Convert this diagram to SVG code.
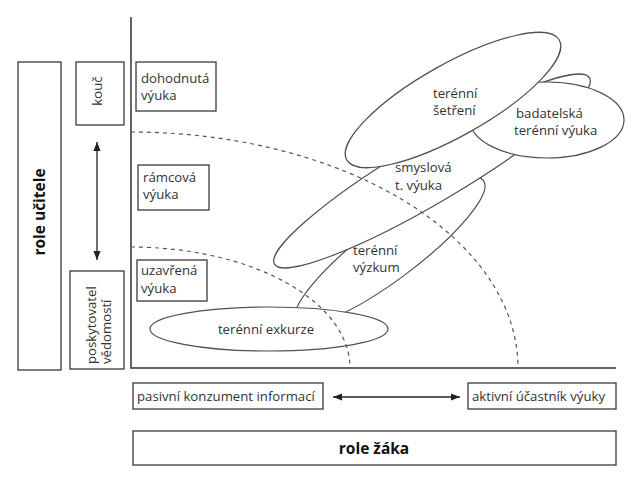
<svg xmlns="http://www.w3.org/2000/svg" width="640" height="481" viewBox="0 0 640 481">
<style>
.box{fill:#fff;stroke:#3a3a3a;stroke-width:1.3}
.ell{fill:#fff;stroke:#505050;stroke-width:1.2}
.dash{fill:none;stroke:#555;stroke-width:1.2;stroke-dasharray:4 4}
.axis{fill:none;stroke:#333;stroke-width:1.5}
.arr{fill:none;stroke:#222;stroke-width:1.3}
.t{font-family:'Open Sans','DejaVu Sans',sans-serif;font-size:13.2px;fill:#333}
.b{font-weight:bold;font-size:15.5px;fill:#111}
</style>
<defs>
<marker id="ah" viewBox="0 0 10 10" refX="10" refY="5" markerWidth="9" markerHeight="9" markerUnits="userSpaceOnUse" orient="auto-start-reverse"><path d="M0,1 L10,5 L0,9 z" fill="#222"/></marker>
</defs>
<rect width="640" height="481" fill="#fff"/>
<g id="axes">
<path class="axis" d="M131,17 V368 H616"/>
</g>
<g id="role-ucitele"><rect class="box" x="18" y="62" width="43" height="308"/><text class="t b" transform="translate(45,212) rotate(-90)" text-anchor="middle">role učitele</text></g>
<g id="kouc"><rect class="box" x="76" y="62" width="48" height="63"/><text class="t" transform="translate(102,91) rotate(-90)" text-anchor="middle">kouč</text></g>
<g id="poskytovatel"><rect class="box" x="70" y="271" width="54" height="98"/><text class="t" transform="translate(96,364) rotate(-90)">poskytovatel</text><text class="t" transform="translate(111,364) rotate(-90)">vědomostí</text></g>
<g id="dohodnuta"><rect class="box" x="136" y="62" width="80" height="49"/><text class="t" x="141" y="83">dohodnutá</text><text class="t" x="141" y="100">výuka</text></g>
<g id="ramcova"><rect class="box" x="138" y="165" width="71" height="45"/><text class="t" x="143" y="182">rámcová</text><text class="t" x="143" y="199">výuka</text></g>
<g id="uzavrena"><rect class="box" x="137" y="260" width="70" height="41"/><text class="t" x="141" y="275">uzavřená</text><text class="t" x="141" y="293">výuka</text></g>
<g id="terenni-vyzkum"><ellipse class="ell" cx="390" cy="251" rx="117" ry="28" transform="rotate(-37 390 251)"/><text class="t" x="353" y="255">terénní</text><text class="t" x="353" y="272">výzkum</text></g>
<g id="smyslova"><ellipse class="ell" cx="432" cy="171" rx="183" ry="31" transform="rotate(-30.6 432 171)"/><text class="t" x="395" y="172">smyslová</text><text class="t" x="395" y="190">t. výuka</text></g>
<g id="badatelska"><ellipse class="ell" cx="547" cy="120" rx="77" ry="38"/><text class="t" x="516" y="118">badatelská</text><text class="t" x="514" y="135">terénní výuka</text></g>
<g id="terenni-setreni"><ellipse class="ell" cx="453" cy="100" rx="122" ry="36" transform="rotate(-29.4 453 100)"/><text class="t" x="433" y="98">terénní</text><text class="t" x="433" y="115">šetření</text></g>
<g id="terenni-exkurze"><ellipse class="ell" cx="269" cy="329" rx="119" ry="22"/><text class="t" x="266" y="334" text-anchor="middle">terénní exkurze</text></g>
<g id="zones">
<path class="dash" d="M131,132 A387,236 0 0 1 518,368"/>
<path class="dash" d="M131,247 A219,121 0 0 1 350,368"/>
</g>
<g id="pasivni"><rect class="box" x="133" y="383" width="190" height="26"/><text class="t" x="137" y="401">pasivní konzument informací</text></g>
<g id="aktivni"><rect class="box" x="468" y="383" width="148" height="26"/><text class="t" x="472" y="401">aktivní účastník výuky</text></g>
<g id="role-zaka"><rect class="box" x="133" y="431" width="483" height="34"/><text class="t b" x="374" y="454" text-anchor="middle">role žáka</text></g>
<g id="connectors">
<line class="arr" x1="97" y1="142" x2="97" y2="260" marker-start="url(#ah)" marker-end="url(#ah)"/>
<line class="arr" x1="333" y1="397" x2="460" y2="397" marker-start="url(#ah)" marker-end="url(#ah)"/>
</g>
</svg>
